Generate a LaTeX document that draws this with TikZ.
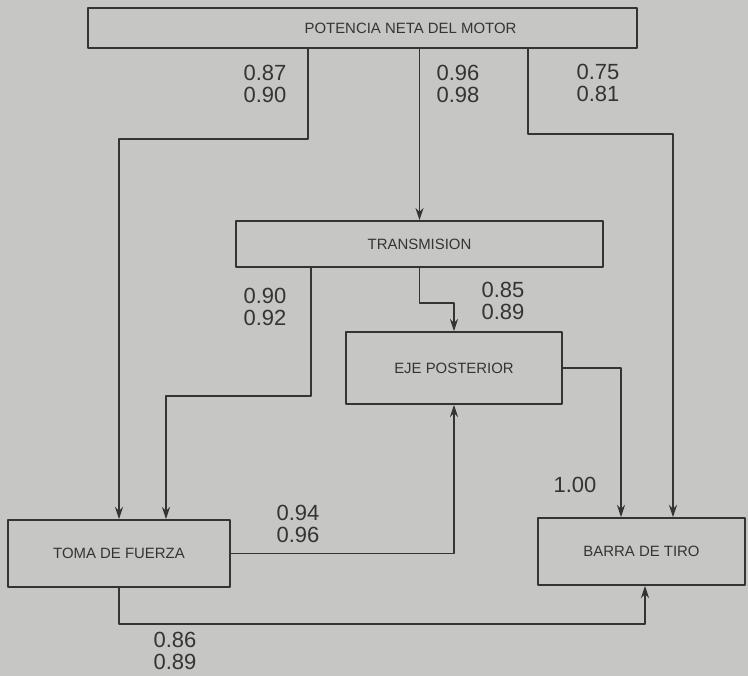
\documentclass[tikz,border=0pt]{standalone}
\usepackage{fontspec}
\setmainfont{Liberation Sans}
\usepackage{tikz}
\usetikzlibrary{arrows.meta,calc,positioning}
\definecolor{paperGray}{RGB}{198,198,196}
\definecolor{inkGray}{RGB}{52,52,52}
\tikzset{
  every picture/.append style={line cap=round,line join=round},
  pwr box/.style={draw=inkGray,line width=1.1pt,inner sep=0pt,text=inkGray,
    font=\fontsize{8.5}{9}\selectfont},
  pwr arrow/.style={draw=inkGray,line width=1.1pt,
    -{Stealth[length=2.4mm,width=1.6mm]}},
  pwr num/.style={text=inkGray,align=center,inner sep=0pt,
    font=\fontsize{12.5}{12.5}\selectfont}
}
\begin{document}
\begin{tikzpicture}[x=0.02cm, y=-0.02cm]
  \fill[paperGray] (0,0) rectangle (748,676);
  \useasboundingbox (0,0) rectangle (748,676);

  \node[pwr box, minimum width=10.98cm, minimum height=0.8cm,
    label={[pwr box,draw=none,xshift=0.96cm]center:POTENCIA NETA DEL MOTOR}]
    (motor) at (362.5,28) {};
  \node[pwr box, minimum width=7.34cm, minimum height=0.92cm]
    (trans) at (419.5,244) {TRANSMISION};
  \node[pwr box, minimum width=4.32cm, minimum height=1.44cm]
    (eje) at (454,368) {EJE POSTERIOR};
  \node[pwr box, minimum width=4.44cm, minimum height=1.34cm]
    (toma) at (119,553.5) {TOMA DE FUERZA};
  \node[pwr box, minimum width=4.14cm, minimum height=1.34cm]
    (barra) at (641.5,551.5) {BARRA DE TIRO};

  \draw[pwr arrow] ($(motor.south)+(-54.5,0)$) -- ++(0,90) -| (toma.north);
  \draw[pwr arrow] (motor.south -| trans.north) -- (trans.north);
  \draw[pwr arrow] ($(motor.south)+(165.5,0)$) -- ++(0,85)
    -| ($(barra.north)+(31.5,0)$);
  \draw[pwr arrow] ($(trans.south)+(-108.5,0)$) -- ++(0,128)
    -| ($(toma.north)+(47,0)$);
  \draw[pwr arrow] (trans.south) -- ++(0,35) -| (eje.north);
  \draw[pwr arrow] (eje.east) -| ($(barra.north)+(-20.5,0)$);
  \draw[pwr arrow] (toma.east) -| (eje.south);
  \draw[pwr arrow] (toma.south) -- ++(0,36) -| ($(barra.south)+(3.5,0)$);

  \node[pwr num] (n1) at (265,84) {0.87\\0.90};
  \node[pwr num] (n2) at (458,84) {0.96\\0.98};
  \node[pwr num] (n3) at (598,83) {0.75\\0.81};
  \node[pwr num] (n4) at (265,307) {0.90\\0.92};
  \node[pwr num] (n5) at (503,301) {0.85\\0.89};
  \node[pwr num] (n6) at (575,485) {1.00};
  \node[pwr num] (n7) at (298,524) {0.94\\0.96};
  \node[pwr num] (n8) at (175,651) {0.86\\0.89};
\end{tikzpicture}
\end{document}
